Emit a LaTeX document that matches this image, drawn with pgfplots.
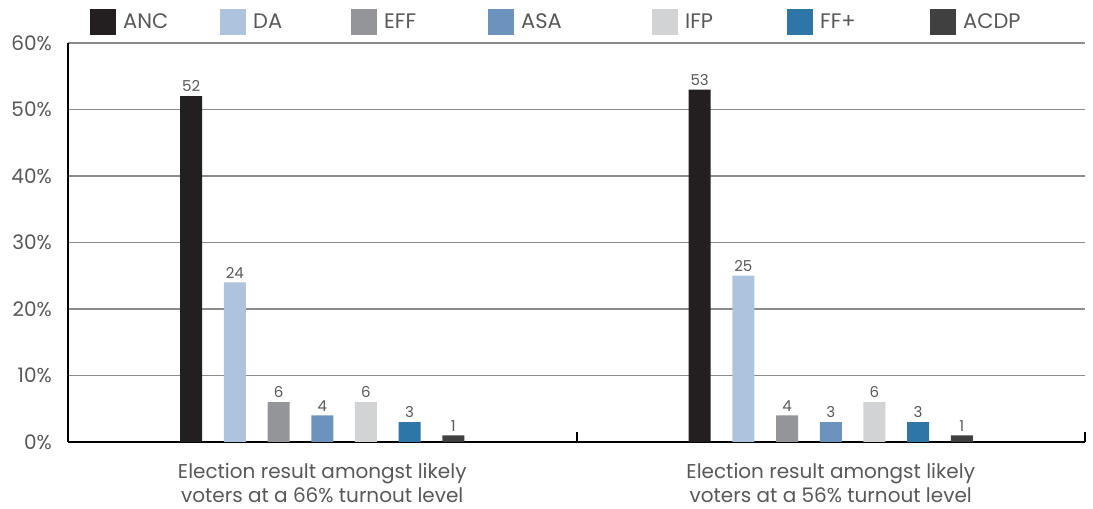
\documentclass[border=0pt]{standalone}
\usepackage{fontspec}
\setmainfont{Poppins}
\usepackage{pgfplots}
\pgfplotsset{compat=1.18}

\definecolor{cANC}{RGB}{35,31,32}
\definecolor{cDA}{RGB}{174,195,221}
\definecolor{cEFF}{RGB}{148,149,153}
\definecolor{cASA}{RGB}{107,147,190}
\definecolor{cIFP}{RGB}{209,211,212}
\definecolor{cFF}{RGB}{46,117,168}
\definecolor{cACDP}{RGB}{64,64,64}
\definecolor{txt}{RGB}{88,88,88}
\definecolor{gridc}{RGB}{140,140,140}

\pgfplotsset{
  party/.style={fill=#1, draw=none,
    legend image code/.code={\fill[fill=#1] (0pt,-13pt) rectangle (26pt,13pt);}},
}

\begin{document}
\begin{tikzpicture}
\begin{axis}[
  scale only axis, width=1017pt, height=399pt,
  ybar=21.7pt, bar width=22pt,
  xmin=-0.5, xmax=1.5, ymin=0, ymax=60,
  axis x line*=bottom, axis y line*=left,
  axis line style={line width=2pt, black},
  ytick={0,10,...,60},
  yticklabel={\pgfmathprintnumber{\tick}\%},
  /pgf/number format/assume math mode=true,
  ytick style={draw=none},
  yticklabel style={font=\fontsize{20}{21}\selectfont, text=txt, anchor=east, inner sep=0pt, xshift=-16pt},
  ymajorgrids, grid style={line width=1.2pt, gridc},
  xtick={0,1},
  xticklabels={{Election result amongst likely\\voters at a 66\% turnout level},
               {Election result amongst likely\\voters at a 56\% turnout level}},
  xtick style={draw=none},
  xticklabel style={font=\fontsize{20}{24}\selectfont, text=txt, align=center, anchor=north, inner sep=0pt, yshift=-17pt},
  extra x ticks={0.5,1.5}, extra x tick labels={},
  extra x tick style={xtick style={draw=black, line width=2pt}, major tick length=10pt, tick align=inside},
  nodes near coords,
  every node near coord/.append style={font=\fontsize{15}{16}\selectfont, text=txt, inner sep=4pt,
    /pgf/number format/assume math mode=true},
  legend columns=7,
  legend style={draw=none, fill=none, at={(axis description cs:0,1)}, anchor=west,
    xshift=22pt, yshift=21pt, inner sep=0pt, column sep=0pt,
    nodes={anchor=west, inner sep=0pt, font=\fontsize{21}{23}\selectfont, text=txt},
    /tikz/every odd column/.append style={column sep=7pt}},
  clip=false,
]
\addplot[party=cANC]  coordinates {(0,52) (1,53)};
\addplot[party=cDA]   coordinates {(0,24) (1,25)};
\addplot[party=cEFF]  coordinates {(0,6) (1,4)};
\addplot[party=cASA]  coordinates {(0,4) (1,3)};
\addplot[party=cIFP]  coordinates {(0,6) (1,6)};
\addplot[party=cFF]   coordinates {(0,3) (1,3)};
\addplot[party=cACDP] coordinates {(0,1) (1,1)};
\addlegendentry{\makebox[97pt][l]{ANC}}
\addlegendentry{\makebox[98pt][l]{DA}}
\addlegendentry{\makebox[104pt][l]{EFF}}
\addlegendentry{\makebox[131pt][l]{ASA}}
\addlegendentry{\makebox[102pt][l]{IFP}}
\addlegendentry{\makebox[110pt][l]{FF+}}
\addlegendentry{ACDP}
\coordinate (tl) at (rel axis cs:0,1);
\coordinate (br) at (rel axis cs:1,0);
\end{axis}
\pgfresetboundingbox
\path ([xshift=-68pt,yshift=43pt]tl) rectangle ([xshift=8pt,yshift=-67pt]br);
\end{tikzpicture}
\end{document}
